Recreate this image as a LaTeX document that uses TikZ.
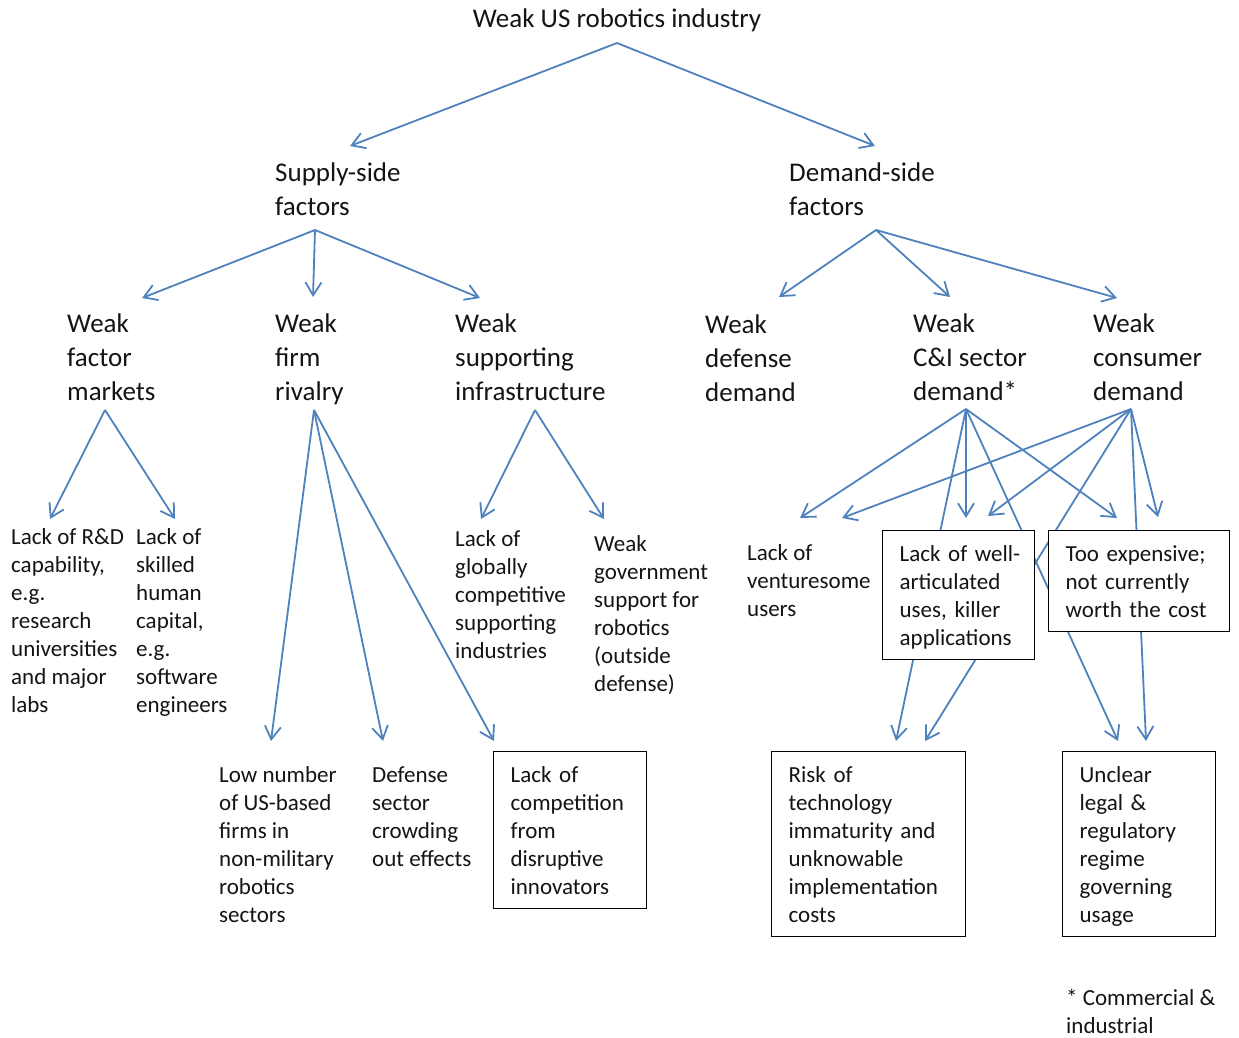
\documentclass[tikz,border=0pt]{standalone}
\usepackage{fontspec}
\setmainfont{Carlito}
\usetikzlibrary{arrows.meta}
\pgfdeclarelayer{bg}
\pgfsetlayers{bg,main}
\definecolor{linkblue}{RGB}{79,129,189}
\definecolor{txtcol}{RGB}{20,20,20}
\newcommand{\strL}{\rule{0pt}{22pt}}
\newcommand{\strS}{\rule{0pt}{19pt}}
\newcommand{\strBt}{\rule{0pt}{31pt}}
\newcommand{\strBb}{\rule[-13.5pt]{0pt}{13.5pt}}
\begin{document}
\begin{tikzpicture}[x=1pt,y=-1pt,
  bigtxt/.style={anchor=north west, inner sep=0pt, align=left, text=txtcol, font=\fontsize{27}{34}\selectfont},
  smalltxt/.style={anchor=north west, inner sep=0pt, align=left, text=txtcol, font=\fontsize{23}{28}\selectfont},
  boxtxt/.style={anchor=north west, draw=black, line width=1.3pt, fill=white, text=txtcol,
    inner xsep=17pt, inner ysep=0pt, align=left, text width=#1, font=\fontsize{23}{28}\selectfont},
  arr/.style={draw=linkblue, line width=1.8pt, -{Straight Barb[length=13pt,width=16pt]}}]
\useasboundingbox (0,0) rectangle (1239,1038);

% ---------- text nodes ----------
\node[anchor=base, inner sep=0pt, text=txtcol, font=\fontsize{27}{34}\selectfont] (title) at (617,28) {Weak US robotics industry};

\node[bigtxt] (supply) at (275,159) {\strL Supply-side\\factors};
\node[bigtxt] (demand) at (789,159) {\strL Demand-side\\factors};

\node[bigtxt] (factor) at (67,310) {\strL Weak\\factor\\markets};
\node[bigtxt] (rivalry) at (275,310) {\strL Weak\\firm\\rivalry};
\node[bigtxt] (infra) at (455,310) {\strL Weak\\supporting\\infrastructure};
\node[bigtxt] (defense) at (705,311) {\strL Weak\\defense\\demand};
\node[bigtxt] (ci) at (913,310) {\strL Weak\\C\&I sector\\demand*};
\node[bigtxt] (consumer) at (1093,310) {\strL Weak\\consumer\\demand};

\node[smalltxt] (rd) at (11,525) {\strS Lack of R\&D\\capability,\\e.g.\\research\\universities\\and major\\labs};
\node[smalltxt] (skilled) at (136,525) {\strS Lack of\\skilled\\human\\capital,\\e.g.\\software\\engineers};
\node[smalltxt] (globally) at (455,527) {\strS Lack of\\globally\\competitive\\supporting\\industries};
\node[smalltxt] (govt) at (594,532) {\strS Weak\\government\\support for\\robotics\\(outside\\defense)};
\node[smalltxt] (venture) at (747,541) {\strS Lack of\\venturesome\\users};
\node[smalltxt] (lownum) at (219,763) {\strS Low number\\of US-based\\firms in\\non-military\\robotics\\sectors};
\node[smalltxt] (defsec) at (372,763) {\strS Defense\\sector\\crowding\\out effects};
\node[smalltxt] (footnote) at (1066,986) {\strS * Commercial \&\\industrial};

% ---------- boxed nodes ----------
\node[boxtxt=118pt] (wellart) at (882,530) {\strBt\mbox{Lack of well-}\\\mbox{articulated}\\\mbox{uses, killer}\\\mbox{applications}\strBb};
\node[boxtxt=147pt] (tooexp) at (1048,530) {\strBt\mbox{Too expensive;}\\\mbox{not currently}\\\mbox{worth the cost}\strBb};
\node[boxtxt=119pt] (competition) at (493,751) {\strBt\mbox{Lack of}\\\mbox{competition}\\\mbox{from}\\\mbox{disruptive}\\\mbox{innovators}\strBb};
\node[boxtxt=160pt] (risk) at (771,751) {\strBt\mbox{Risk of}\\\mbox{technology}\\\mbox{immaturity and}\\\mbox{unknowable}\\\mbox{implementation}\\\mbox{costs}\strBb};
\node[boxtxt=119pt] (unclear) at (1062,751) {\strBt\mbox{Unclear}\\\mbox{legal \&}\\\mbox{regulatory}\\\mbox{regime}\\\mbox{governing}\\\mbox{usage}\strBb};

% ---------- connector end points ----------
\coordinate (title-out) at (617,43);
\coordinate (supply-in) at (350,146);
\coordinate (demand-in) at (875,146);
\coordinate (supply-out) at (315,230);
\coordinate (factor-in) at (142,298);
\coordinate (rivalry-in) at (313,297);
\coordinate (infra-in) at (480,298);
\coordinate (demand-out) at (876,230);
\coordinate (defense-in) at (779,297);
\coordinate (ci-in) at (950,297);
\coordinate (consumer-in) at (1117,298);
\coordinate (factor-out) at (105,410);
\coordinate (rd-in) at (50,519);
\coordinate (skilled-in) at (175,519);
\coordinate (rivalry-out) at (314,410);
\coordinate (lownum-in) at (271,741);
\coordinate (defsec-in) at (383,741);
\coordinate (competition-in) at (494,741);
\coordinate (infra-out) at (535,410);
\coordinate (globally-in) at (481,519);
\coordinate (govt-in) at (604,519);
\coordinate (ci-out) at (966,409);
\coordinate (consumer-out) at (1131,409);
\coordinate (venture-in1) at (800,518);
\coordinate (venture-in2) at (842,518);
\coordinate (wellart-in1) at (966,518);
\coordinate (wellart-in2) at (988,516);
\coordinate (tooexp-in1) at (1117,518);
\coordinate (tooexp-in2) at (1158,517);
\coordinate (risk-in1) at (896,741);
\coordinate (risk-in2) at (925,741);
\coordinate (unclear-in1) at (1118,741);
\coordinate (unclear-in2) at (1146,741);

% ---------- connectors (behind the boxes) ----------
\begin{pgfonlayer}{bg}
\draw[arr] (title-out) -- (supply-in);
\draw[arr] (title-out) -- (demand-in);
\draw[arr] (supply-out) -- (factor-in);
\draw[arr] (supply-out) -- (rivalry-in);
\draw[arr] (supply-out) -- (infra-in);
\draw[arr] (demand-out) -- (defense-in);
\draw[arr] (demand-out) -- (ci-in);
\draw[arr] (demand-out) -- (consumer-in);
\draw[arr] (factor-out) -- (rd-in);
\draw[arr] (factor-out) -- (skilled-in);
\draw[arr] (rivalry-out) -- (lownum-in);
\draw[arr] (rivalry-out) -- (defsec-in);
\draw[arr] (rivalry-out) -- (competition-in);
\draw[arr] (infra-out) -- (globally-in);
\draw[arr] (infra-out) -- (govt-in);
\draw[arr] (ci-out) -- (venture-in1);
\draw[arr] (ci-out) -- (wellart-in1);
\draw[arr] (ci-out) -- (tooexp-in1);
\draw[arr] (ci-out) -- (risk-in1);
\draw[arr] (ci-out) -- (unclear-in1);
\draw[arr] (consumer-out) -- (venture-in2);
\draw[arr] (consumer-out) -- (wellart-in2);
\draw[arr] (consumer-out) -- (tooexp-in2);
\draw[arr] (consumer-out) -- (risk-in2);
\draw[arr] (consumer-out) -- (unclear-in2);
\end{pgfonlayer}
\end{tikzpicture}
\end{document}
